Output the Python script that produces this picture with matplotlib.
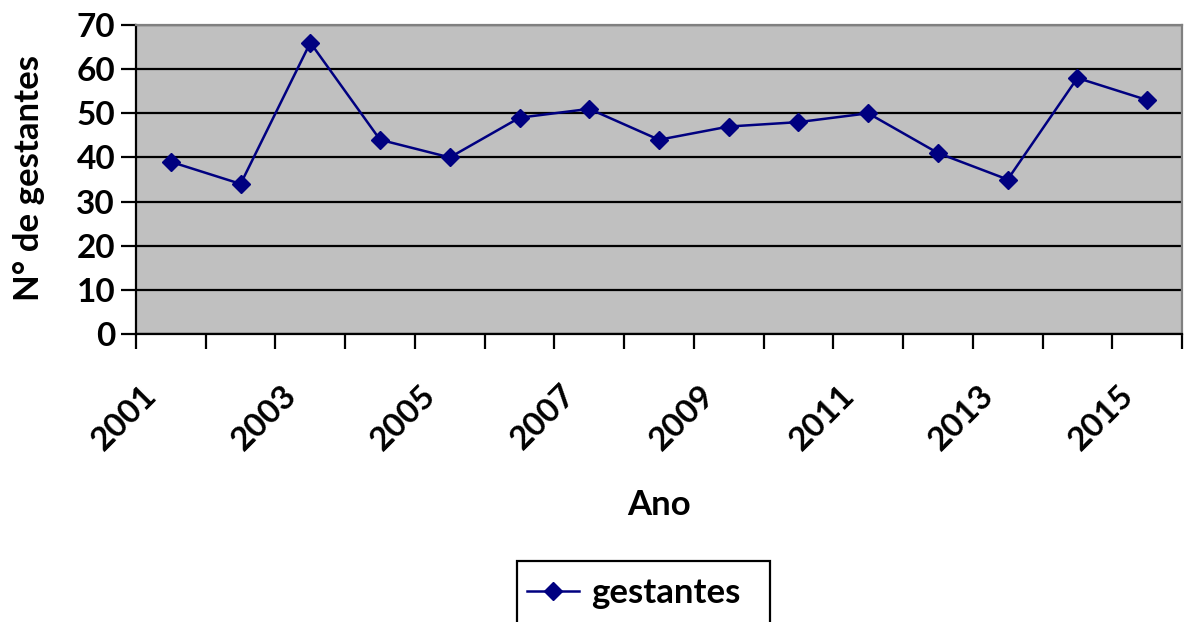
import matplotlib
matplotlib.use("Agg")
import matplotlib.pyplot as plt
import matplotlib.transforms as mtransforms
from matplotlib.patches import Rectangle
import numpy as np

years = [2001, 2002, 2003, 2004, 2005, 2006, 2007, 2008, 2009, 2010, 2011, 2012, 2013, 2014, 2015]
gestantes = [39, 34, 66, 44, 40, 49, 51, 44, 47, 48, 50, 41, 35, 58, 53]
y_ticks = [0, 10, 20, 30, 40, 50, 60, 70]
series_name = "gestantes"

plt.rcParams['font.family'] = ['Lato', 'DejaVu Sans']
plt.rcParams['font.weight'] = 'bold'

FS_TICK = 24
FS_LAB = 25

fig = plt.figure(figsize=(11.84, 6.22), dpi=100)
ax = fig.add_axes([136/1184, 1 - 334/622, (1182-136)/1184, (334-25)/622])
ax.set_facecolor('#C0C0C0')

x = np.arange(len(years))
ax.plot(x, gestantes, color='#000080', lw=1.8, marker='D', markersize=9,
        markerfacecolor='#000080', markeredgecolor='#000080', label=series_name, zorder=3)

ax.set_xlim(-0.5, len(years) - 0.5)
ax.set_ylim(0, 70)
ax.set_yticks(y_ticks)
ax.set_yticklabels([str(v) for v in y_ticks], fontsize=FS_TICK, fontweight='bold')
ax.grid(axis='y', color='black', lw=1.6, zorder=1)
ax.set_axisbelow(True)

# category boundaries as ticks, labels on every other category
ax.set_xticks(np.arange(-0.5, len(years), 1.0))
ax.set_xticklabels([])
ax.set_xticks(x[::2], minor=True)
ax.set_xticklabels([str(y) for y in years[::2]], minor=True, rotation=45,
                   ha='right', va='top', rotation_mode='anchor', fontsize=FS_TICK, fontweight='bold')
ax.tick_params(axis='x', which='minor', length=0, pad=33)
ax.tick_params(axis='x', which='major', length=11, width=1.6, color='black', direction='out')
ax.tick_params(axis='y', length=11, width=1.6, color='black', direction='out', pad=4)

offset = mtransforms.ScaledTranslation(-29/100, 0, fig.dpi_scale_trans)
for lbl in ax.get_xticklabels(minor=True):
    lbl.set_transform(lbl.get_transform() + offset)

for s in ['left', 'bottom']:
    ax.spines[s].set_color('black')
    ax.spines[s].set_linewidth(1.6)
for s in ['top', 'right']:
    ax.spines[s].set_color('#808080')
    ax.spines[s].set_linewidth(1.6)

fig.text(29/1184, 1 - 178/622, 'N° de gestantes', rotation=90, ha='center', va='center',
         fontsize=FS_LAB, fontweight='bold')
fig.text(659/1184, 1 - 505/622, 'Ano', ha='center', va='center', fontsize=FS_LAB, fontweight='bold')

leg = fig.legend(loc='upper left', bbox_to_anchor=(527/1184, 1 - 577/622),
                 prop={'size': FS_LAB, 'weight': 'bold'}, frameon=False,
                 handlelength=1.5, handletextpad=0.35, borderpad=0.0,
                 borderaxespad=0)
# legend frame (extends past the bottom edge, as in the original)
fig.patches.append(Rectangle((517/1184, -0.05), (770-517)/1184, (1 - 561/622) + 0.05,
                             transform=fig.transFigure, fill=False, edgecolor='black',
                             lw=1.6, figure=fig))

fig.savefig('out.png', dpi=100)
